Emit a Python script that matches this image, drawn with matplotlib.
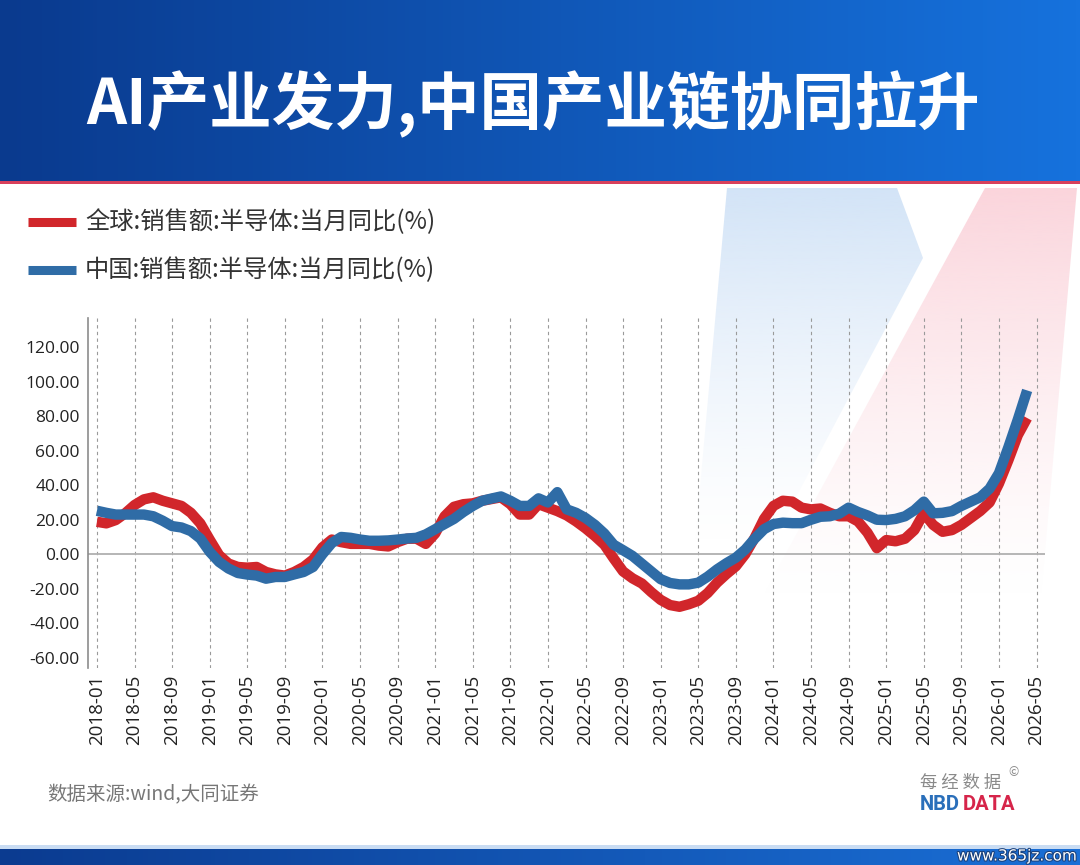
import numpy as np
import pandas as pd
import matplotlib as mpl
import matplotlib.pyplot as plt
import matplotlib.patheffects as pe
from matplotlib.patches import Polygon, Rectangle
from matplotlib.colors import to_rgb

plt.rcParams['font.family'] = ['Noto Sans CJK SC', 'DejaVu Sans']

# monthly yoy, 2018-01 .. 2026-04
months = pd.date_range('2018-01', periods=100, freq='MS').strftime('%Y-%m').tolist()

global_yoy = [
    18.8, 17.9, 19.8, 23.7, 28.5, 31.8, 33.0, 31.0, 29.5, 28.0,
    24.0, 17.9, 8.5, -0.5, -5.4, -7.4, -7.8, -7.4, -10.3, -11.7,
    -12.4, -10.3, -7.4, -3.1, 4.0, 8.5, 7.0, 6.0, 6.0, 6.0,
    5.0, 4.5, 7.0, 9.0, 9.0, 6.0, 12.0, 22.0, 27.5, 29.0,
    29.5, 31.0, 32.0, 33.0, 29.0, 23.0, 23.0, 29.0, 27.0, 25.0,
    22.5, 19.0, 15.0, 10.5, 5.5, -2.5, -10.0, -14.0, -17.0, -22.0,
    -26.5, -29.5, -30.5, -29.0, -27.0, -22.5, -16.5, -11.5, -7.0, 0.0,
    9.5, 20.5, 28.0, 31.0, 30.5, 27.0, 26.0, 26.5, 24.0, 22.0,
    22.0, 19.0, 12.5, 3.5, 8.2, 7.5, 9.0, 14.0, 23.7, 17.0,
    13.0, 14.0, 17.0, 21.0, 25.0, 30.0, 41.0, 54.5, 69.0, 79.0,
]

china_yoy = [
    25.2, 24.0, 23.0, 23.0, 23.0, 23.0, 22.0, 19.4, 16.3, 15.5,
    13.4, 9.1, 1.4, -4.5, -8.3, -10.9, -11.8, -12.4, -14.2, -13.2,
    -13.2, -11.7, -10.3, -7.4, 0.0, 6.5, 10.0, 9.5, 8.5, 7.8,
    7.8, 8.0, 8.5, 9.1, 9.5, 11.5, 14.5, 17.5, 20.5, 24.5,
    28.0, 31.0, 32.3, 33.5, 31.0, 28.0, 28.0, 32.4, 30.0, 36.0,
    26.0, 24.0, 21.0, 17.0, 12.0, 5.5, 2.3, -1.0, -5.5, -10.0,
    -14.5, -16.7, -17.5, -17.5, -16.5, -13.0, -8.8, -5.2, -2.0, 2.7,
    9.0, 14.5, 17.5, 18.3, 18.0, 18.0, 20.0, 21.7, 22.0, 23.5,
    27.0, 24.5, 22.5, 20.0, 19.8, 20.5, 22.0, 25.5, 30.5, 23.7,
    24.0, 25.0, 28.0, 30.5, 33.0, 38.0, 47.0, 62.0, 78.0, 95.0,
]

tick_labels = pd.date_range('2018-01', '2026-05', freq='4MS').strftime('%Y-%m').tolist()
y_ticks = [-60, -40, -20, 0, 20, 40, 60, 80, 100, 120]

title = 'AI产业发力,中国产业链协同拉升'
legend_labels = ['全球:销售额:半导体:当月同比(%)', '中国:销售额:半导体:当月同比(%)']
source = '数据来源:wind,大同证券'

RED = '#d1262b'
BLUE = '#2f6ca6'
W, H = 1080, 865

fig = plt.figure(figsize=(10.8, 8.65), dpi=100)
bg = fig.add_axes([0, 0, 1, 1])
bg.set_xlim(0, W)
bg.set_ylim(H, 0)
bg.axis('off')


def hgrad(c1, c2, n=256):
    a, b = np.array(to_rgb(c1)), np.array(to_rgb(c2))
    t = np.linspace(0, 1, n)[None, :, None]
    return a + (b - a) * t


# header band
bg.imshow(hgrad('#0a3a8e', '#1672dd'), extent=(0, W, 181, 0), aspect='auto', zorder=1)
bg.add_patch(Rectangle((0, 181), W, 3, color='#d8405c', zorder=2, lw=0))


# faint decorative shapes, fading downwards
def faded_shape(pts, color, a0, y0, y1):
    rgb = np.array(to_rgb(color))
    n = 200
    img = np.zeros((n, 1, 4))
    img[:, 0, :3] = rgb
    img[:, 0, 3] = a0 * (1 - np.linspace(0, 1, n)) ** 1.3
    im = bg.imshow(img, extent=(0, W, y1, y0), aspect='auto', zorder=1)
    poly = Polygon(pts, closed=True, transform=bg.transData, fc='none', ec='none')
    bg.add_patch(poly)
    im.set_clip_path(poly)


faded_shape([(727, 188), (897, 188), (923, 258), (760, 565), (693, 565)], '#d3e4f7', 1.0, 188, 545)
faded_shape([(985, 188), (1077, 188), (1040, 610), (755, 610)], '#fbd5dc', 1.0, 188, 600)

# title
bg.text(533, 104, title, color='white', fontsize=45, fontweight='bold', ha='center', va='center', zorder=5)

# legend
for k, (lab, col) in enumerate(zip(legend_labels, [RED, BLUE])):
    yy = 222 + 48 * k
    bg.plot([28, 76], [yy, yy], color=col, lw=6.5, solid_capstyle='butt', zorder=5)
    bg.text(85, yy, lab, fontsize=17.5, color='#333333', va='center', ha='left', zorder=5)

# footer
bg.text(47, 795, source, fontsize=14, color='#777777', va='center', ha='left', zorder=5)
bg.text(920, 783, '每 经 数 据', fontsize=12.5, color='#8a8a8a', va='center', ha='left', zorder=5)
bg.text(1008, 773, '©', fontsize=9, color='#8a8a8a', va='center', ha='left', zorder=5)
bg.text(920, 804, 'NBD', fontsize=14.5, color='#2a6fba', fontweight='bold', va='center', ha='left',
        family=['Roboto', 'DejaVu Sans'], zorder=5)
bg.text(963, 804, 'DATA', fontsize=14.5, color='#d6254a', fontweight='bold', va='center', ha='left',
        family=['Roboto', 'DejaVu Sans'], zorder=5)

# bottom band
bg.add_patch(Rectangle((0, 845), W, 4, color='#c9dcf3', lw=0, zorder=2))
bg.imshow(hgrad('#0b3b90', '#1a6fd6'), extent=(0, W, H, 849), aspect='auto', zorder=2)
bg.text(1077, 856, 'www.365jz.com', fontsize=11, color='white', ha='right', va='center', zorder=6,
        family=['DejaVu Sans'], path_effects=[pe.withStroke(linewidth=1.5, foreground='#1b3f77')])

# main chart
ax = fig.add_axes([88 / W, 1 - 668 / H, (1045 - 88) / W, (668 - 318) / H])
ax.patch.set_alpha(0)
x = np.arange(len(months))
ax.plot(x, global_yoy, color=RED, lw=7.5, solid_capstyle='butt', zorder=4)
ax.plot(x, china_yoy, color=BLUE, lw=7.5, solid_capstyle='butt', zorder=5)
ax.axhline(0, color='#b0b0b0', lw=1.3, zorder=2)

ax.set_xlim(-0.95, 100.9)
ax.set_ylim(-66, 137)
xt = [months.index(m) if m in months else len(months) for m in tick_labels]
ax.set_xticks(xt)
ax.set_xticklabels(tick_labels, rotation=90, fontsize=13.5, color='#222222', family=['Open Sans', 'DejaVu Sans'])
ax.set_yticks(y_ticks)
ax.set_yticklabels([f'{v:.2f}' for v in y_ticks], fontsize=12.5, color='#222222', family=['Open Sans', 'DejaVu Sans'])
ax.tick_params(axis='both', length=0)
ax.tick_params(axis='x', pad=5)
ax.tick_params(axis='y', pad=6)
ax.grid(axis='x', color='#9a9a9a', lw=0.8, linestyle=(0, (3, 3)), zorder=1)
for s in ['top', 'right', 'bottom']:
    ax.spines[s].set_visible(False)
ax.spines['left'].set_color('#8c8c8c')
ax.spines['left'].set_linewidth(1.2)

fig.savefig('out.png', dpi=100)
